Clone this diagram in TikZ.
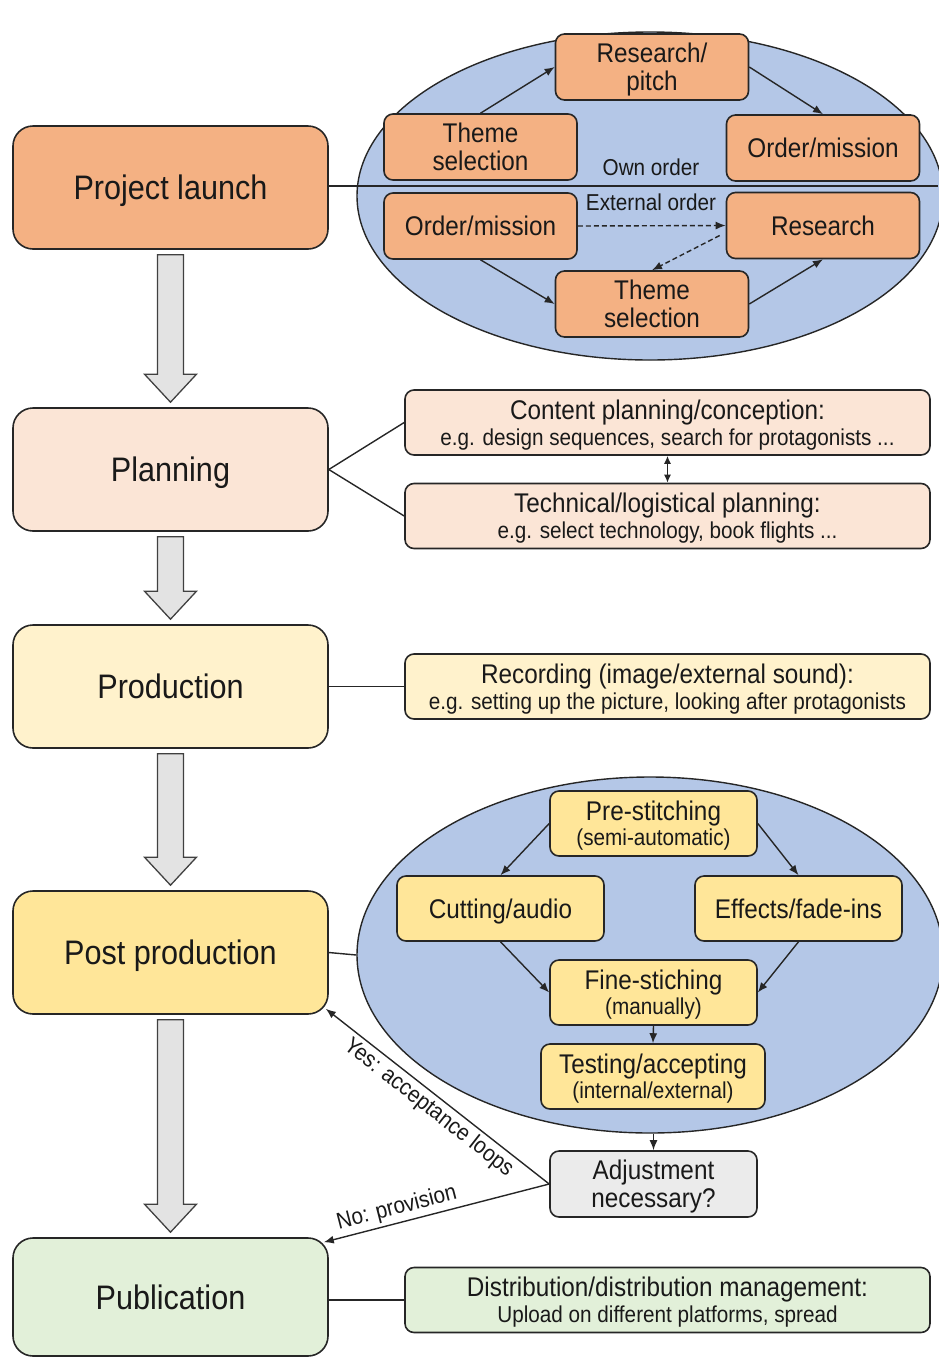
\documentclass[tikz,border=0pt]{standalone}
\usepackage{fontspec}
\setmainfont[FakeStretch=0.9]{Liberation Sans}
\usetikzlibrary{shapes.geometric,arrows.meta,calc}
\definecolor{cLaunch}{HTML}{F4B183}
\definecolor{cPlan}{HTML}{FBE5D6}
\definecolor{cProd}{HTML}{FFF2CC}
\definecolor{cPost}{HTML}{FFE699}
\definecolor{cPub}{HTML}{E2F0D9}
\definecolor{cOval}{HTML}{B4C7E7}
\definecolor{cAdj}{HTML}{EBEBEB}
\definecolor{cBlock}{HTML}{E3E3E3}
\definecolor{cLine}{HTML}{262626}
\newcommand\blockarr[2]{%
  \draw[blockarrow] let \p1=(#1.south), \p2=(#2.north) in
  (\x1-13pt,\y1-5pt) -- (\x1+13pt,\y1-5pt) -- (\x1+13pt,\y2+33pt) -- (\x1+26pt,\y2+33pt)
  -- (\x1,\y2+5pt) -- (\x1-26pt,\y2+33pt) -- (\x1-13pt,\y2+33pt) -- cycle;}
\begin{document}
\begin{tikzpicture}[x=1pt,y=-1pt,
  bigbox/.style={draw=cLine, line width=1.6pt, rounded corners=20pt, minimum width=315pt, minimum height=123pt, font=\fontsize{34}{40}\selectfont, inner sep=0pt, text=black!90, text depth=0pt},
  innerbox/.style={draw=cLine, line width=1.6pt, rounded corners=9pt, minimum width=193pt, minimum height=66pt, align=center, font=\fontsize{27}{28}\selectfont, inner sep=0pt, text=black!90, text depth=0pt},
  sidebox/.style={draw=cLine, line width=1.6pt, rounded corners=9pt, minimum width=525pt, minimum height=65pt, align=center, font=\fontsize{23}{26}\selectfont, inner sep=0pt, text=black!90, text depth=0pt},
  oval/.style={ellipse, draw=cLine, line width=1.4pt, fill=cOval, inner sep=0pt},
  conn/.style={line width=1.4pt, draw=cLine},
  arr/.style={conn, -{Latex[length=10pt,width=8pt]}},
  dsh/.style={dash pattern=on 5pt off 3pt},
  lbl/.style={font=\fontsize{23}{26}\selectfont, inner sep=3pt, text=black!90},
  blockarrow/.style={draw=black!75, line width=1.3pt, fill=cBlock, line join=miter}
]
\useasboundingbox (0,0) rectangle (938,1358);

% ---------- Project launch ----------
\node[bigbox, fill=cLaunch] (pl) at (170.5,187.5) {Project launch};
\node[oval, minimum width=586pt, minimum height=328pt] (ov1) at (650,196) {};
\coordinate (lend) at (938,186);
\draw[conn] (pl.east |- lend) -- (lend);
\node[innerbox, fill=cLaunch] (rp) at (652,67) {Research/\\pitch};
\node[innerbox, fill=cLaunch] (ts1) at (480.5,147) {Theme\\selection};
\node[innerbox, fill=cLaunch] (om1) at (823,148) {Order/mission};
\node[innerbox, fill=cLaunch] (om2) at (480.5,226) {Order/mission};
\node[innerbox, fill=cLaunch] (rs) at (823,225.5) {Research};
\node[innerbox, fill=cLaunch] (ts2) at (652,304) {Theme\\selection};
\node[lbl] (own) at (651,167) {Own order};
\node[lbl] (ext) at (651,202) {External order};
\draw[arr] (ts1.north) -- (rp.west);
\draw[arr] (rp.east) -- (om1.north);
\draw[arr] (om2.south) -- (ts2.west);
\draw[arr] (ts2.east) -- (rs.south);
\draw[arr, dsh] (om2.east) -- (rs.west);
\draw[arr, dsh] ($(rs.west)+(-6,10)$) -- (ts2.north);

% ---------- Planning ----------
\node[bigbox, fill=cPlan] (plan) at (170.5,469.5) {Planning};
\node[sidebox, fill=cPlan] (cp) at (667.5,422.5) {{\fontsize{27}{26}\selectfont Content planning/conception:}\\e.g. design sequences, search for protagonists ...};
\node[sidebox, fill=cPlan] (tp) at (667.5,516) {{\fontsize{27}{26}\selectfont Technical/logistical planning:}\\e.g. select technology, book flights ...};
\draw[conn] (plan.east) -- (cp.west);
\draw[conn] (plan.east) -- (tp.west);
\draw[conn, {Latex[length=8pt,width=7pt]}-{Latex[length=8pt,width=7pt]}] (cp.south) -- (tp.north);

% ---------- Production ----------
\node[bigbox, fill=cProd] (prod) at (170.5,686.5) {Production};
\node[sidebox, fill=cProd] (rec) at (667.5,686.5) {{\fontsize{27}{26}\selectfont Recording (image/external sound):}\\e.g. setting up the picture, looking after protagonists};
\draw[conn] (prod.east) -- (rec.west);

% ---------- Post production ----------
\node[bigbox, fill=cPost] (post) at (170.5,952.5) {Post production};
\node[oval, minimum width=586pt, minimum height=356pt] (ov2) at (650,955) {};
\draw[conn] (post.east) -- (ov2.west);
\node[innerbox, fill=cPost, minimum width=207pt, minimum height=65pt, font=\fontsize{23}{25}\selectfont] (pre) at (653.5,823.5) {{\fontsize{27}{25}\selectfont Pre-stitching}\\(semi-automatic)};
\node[innerbox, fill=cPost, minimum width=207pt, minimum height=65pt] (cut) at (500.5,908.5) {Cutting/audio};
\node[innerbox, fill=cPost, minimum width=207pt, minimum height=65pt] (eff) at (798.5,908.5) {Effects/fade-ins};
\node[innerbox, fill=cPost, minimum width=207pt, minimum height=65pt, font=\fontsize{23}{25}\selectfont] (fine) at (653.5,992.5) {{\fontsize{27}{25}\selectfont Fine-stiching}\\(manually)};
\node[innerbox, fill=cPost, minimum width=224pt, minimum height=65pt, font=\fontsize{23}{25}\selectfont] (test) at (653,1076.5) {{\fontsize{27}{25}\selectfont Testing/accepting}\\(internal/external)};
\draw[arr] (pre.west) -- (cut.north);
\draw[arr] (pre.east) -- (eff.north);
\draw[arr] (cut.south) -- (fine.west);
\draw[arr] (eff.south) -- (fine.east);
\draw[arr] (fine.south) -- (test.north);

\node[innerbox, fill=cAdj, minimum width=207pt, minimum height=66pt] (adj) at (653.5,1184) {Adjustment\\necessary?};
\draw[arr] (adj.north |- ov2.south) -- (adj.north);

% ---------- Publication ----------
\node[bigbox, fill=cPub, minimum height=118pt] (pub) at (170.5,1297) {Publication};
\node[sidebox, fill=cPub] (dist) at (667.5,1300) {{\fontsize{27}{26}\selectfont Distribution/distribution management:}\\Upload on different platforms, spread};
\draw[conn] (pub.east |- dist.west) -- (dist.west);

\draw[arr] (adj.west) -- node[lbl, sloped, below, pos=0.5] (yes) {Yes: acceptance loops} ($(post.south east)+(-3,-6)$);
\draw[arr] (adj.west) -- node[lbl, sloped, above, pos=0.66] (no) {No: provision} ($(pub.north east)+(-5,5)$);

% ---------- block arrows ----------
\blockarr{pl}{plan}
\blockarr{plan}{prod}
\blockarr{prod}{post}
\blockarr{post}{pub}
\end{tikzpicture}
\end{document}
